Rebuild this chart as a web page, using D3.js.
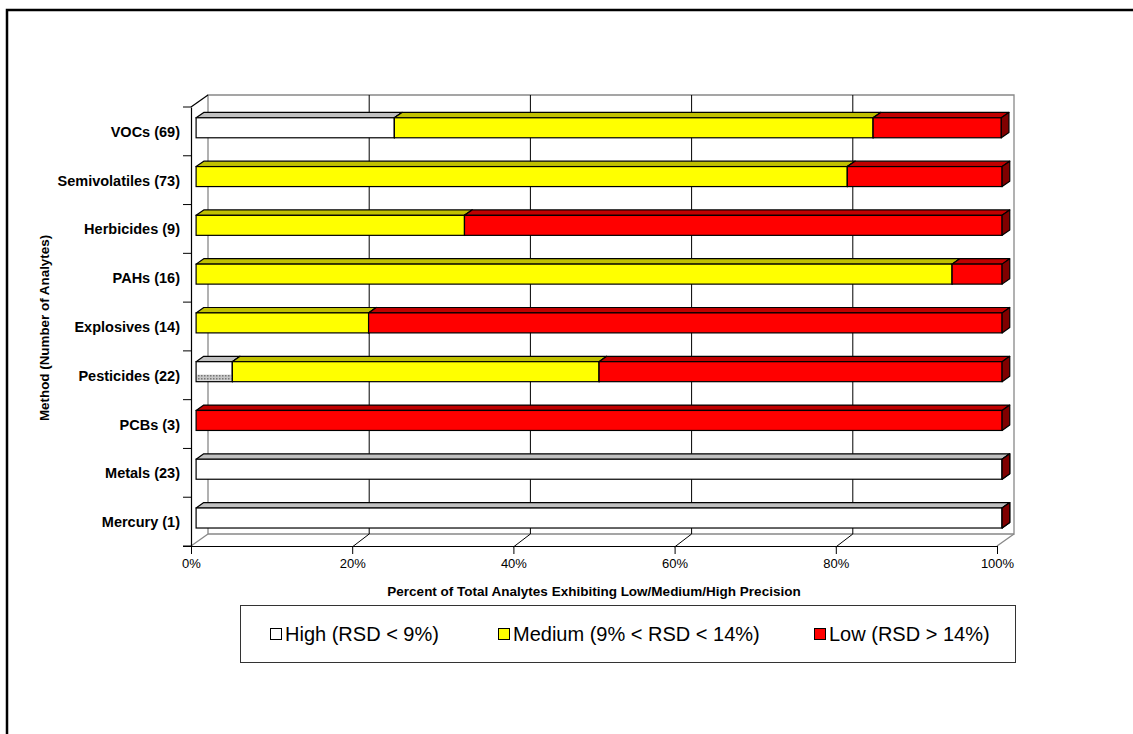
<!DOCTYPE html>
<html>
<head>
<meta charset="utf-8">
<script src="https://cdn.jsdelivr.net/npm/d3@7"></script>
<style>
  html, body { margin: 0; padding: 0; background: #fff; }
  svg { display: block; font-family: Arial, "Liberation Sans", sans-serif; }
</style>
</head>
<body>
<svg id="chart" width="1133" height="734"></svg>
<script>
// Methods with the number of analytes in each
const categories = ["VOCs (69)", "Semivolatiles (73)", "Herbicides (9)", "PAHs (16)",
  "Explosives (14)", "Pesticides (22)", "PCBs (3)", "Metals (23)", "Mercury (1)"];

// Percent of analytes in each precision class
const highPct   = [24.6,   0,    0,    0,    0,  4.5,   0, 100, 100];
const mediumPct = [59.4, 80.8, 33.3, 93.8, 21.4, 45.5,   0,   0,   0];
const lowPct    = [15.9, 19.2, 66.7,  6.2, 78.6, 50.0, 100,   0,   0];

const seriesNames = ["High (RSD < 9%)", "Medium (9% < RSD < 14%)", "Low (RSD > 14%)"];
const xTicks = [0, 20, 40, 60, 80, 100];

const svg = d3.select("#chart");

// Outer frame
svg.append("rect").attr("x", 7).attr("y", 10).attr("width", 1140).attr("height", 740)
  .attr("fill", "none").attr("stroke", "#000").attr("stroke-width", 2.5);

// Plot geometry (front plane) and depth offset of the 3D box
const x = d3.scaleLinear().domain([0, 100]).range([191, 997]);
const y = d3.scaleBand().domain(categories).range([107, 546]);
const DX = 17, DY = -12;
const F1 = 0.3, F2 = 0.75;     // bar front/back depth fractions
const barH = 20;

const at = (v, yy, f) => [x(v) + f * DX, yy + f * DY];

// Back wall
const wall = svg.append("g");
wall.append("path")
  .attr("d", `M${x(0)+DX},${y.range()[1]+DY} V${y.range()[0]+DY} H${x(100)+DX} V${y.range()[1]+DY} H${x(0)+DX}`)
  .attr("fill", "none").attr("stroke", "#888").attr("stroke-width", 1.3);
// Floor edges
wall.append("line").attr("x1", x(0)).attr("y1", y.range()[1]).attr("x2", x(0)+DX).attr("y2", y.range()[1]+DY)
  .attr("stroke", "#888").attr("stroke-width", 1.3);
wall.append("line").attr("x1", x(100)).attr("y1", y.range()[1]).attr("x2", x(100)+DX).attr("y2", y.range()[1]+DY)
  .attr("stroke", "#888").attr("stroke-width", 1.3);
// Side wall top edge
wall.append("line").attr("x1", x(0)).attr("y1", y.range()[0]).attr("x2", x(0)+DX).attr("y2", y.range()[0]+DY)
  .attr("stroke", "#000").attr("stroke-width", 1.2);

// Gridlines on back wall and floor
xTicks.filter(t => t > 0 && t < 100).forEach(t => {
  wall.append("line").attr("x1", x(t)+DX).attr("x2", x(t)+DX)
    .attr("y1", y.range()[0]+DY).attr("y2", y.range()[1]+DY)
    .attr("stroke", "#000").attr("stroke-width", 1);
  wall.append("line").attr("x1", x(t)).attr("y1", y.range()[1]+1)
    .attr("x2", x(t)+DX).attr("y2", y.range()[1]+DY)
    .attr("stroke", "#000").attr("stroke-width", 1);
});

// Axes
const xAxis = d3.axisBottom(x).tickValues(xTicks).tickFormat(d => d + "%").tickSize(8).tickSizeOuter(0);
const gx = svg.append("g").attr("transform", `translate(0,${y.range()[1]})`).call(xAxis);
gx.select(".domain").attr("d", `M${x(0)-8},0.5H${x(100)}`).attr("stroke", "#000").attr("stroke-width", 1.2);
gx.selectAll(".tick line").attr("stroke", "#000");
gx.selectAll(".tick text").attr("font-size", 13).attr("fill", "#000").attr("dy", "0.85em")
  .attr("font-family", "Arial, 'Liberation Sans', sans-serif");

const yAxis = d3.axisLeft(y).tickSize(0).tickPadding(11);
const gy = svg.append("g").attr("transform", `translate(${x(0)},0)`).call(yAxis);
gy.select(".domain").attr("stroke", "#000").attr("stroke-width", 1.2);
gy.selectAll(".tick text").attr("font-size", 14.5).attr("font-weight", "bold").attr("fill", "#000")
  .attr("dy", "0.38em").attr("font-family", "Arial, 'Liberation Sans', sans-serif");
// Category boundary ticks
const bounds = categories.map(c => y(c)).concat([y.range()[1]]);
gy.selectAll("line.bound").data(bounds).join("line").attr("class", "bound")
  .attr("x1", -8).attr("x2", 0).attr("y1", d => d).attr("y2", d => d)
  .attr("stroke", "#000").attr("stroke-width", 1);

// Axis titles
svg.append("text").attr("x", 594).attr("y", 596).attr("text-anchor", "middle")
  .attr("font-size", 13.5).attr("font-weight", "bold")
  .text("Percent of Total Analytes Exhibiting Low/Medium/High Precision");
svg.append("text").attr("transform", "translate(49,328) rotate(-90)").attr("text-anchor", "middle")
  .attr("font-size", 13.4).attr("font-weight", "bold")
  .text("Method (Number of Analytes)");

// Pattern used on the small High segment of Pesticides
const defs = svg.append("defs");
const pat = defs.append("pattern").attr("id", "dots").attr("patternUnits", "userSpaceOnUse")
  .attr("width", 3).attr("height", 3);
pat.append("rect").attr("width", 3).attr("height", 3).attr("fill", "#c8c8c8");
pat.append("rect").attr("width", 1.5).attr("height", 1.5).attr("fill", "#777");

// Face colours: front, top, side
const palette = [
  { front: "#ffffff", top: "#c0c0c0", side: "#808080" },
  { front: "#ffff00", top: "#c0c000", side: "#808000" },
  { front: "#ff0000", top: "#c00000", side: "#800000" }
];

const stacked = categories.map((c, i) => {
  const vals = [highPct[i], mediumPct[i], lowPct[i]];
  let acc = 0;
  return vals.map((v, s) => { const seg = { cat: c, s, x0: acc, x1: acc + v }; acc += v; return seg; });
});

const poly = pts => "M" + pts.map(p => p.join(",")).join("L") + "Z";

const bars = svg.append("g");
stacked.forEach((segs, i) => {
  const cy = y(categories[i]) + y.bandwidth() / 2;
  const top = cy - barH / 2, bot = cy + barH / 2;
  segs.forEach(seg => {
    const col = palette[seg.s];
    const g = bars.append("g");
    const x1v = Math.min(seg.x1, 100);
    if (seg.x1 - seg.x0 > 0.01) {
      // top face
      g.append("path").attr("d", poly([at(seg.x0, top, F1), at(x1v, top, F1), at(x1v, top, F2), at(seg.x0, top, F2)]))
        .attr("fill", col.top).attr("stroke", "#000").attr("stroke-width", 1.2).attr("stroke-linejoin", "round");
      // front face
      const p0 = at(seg.x0, top, F1), p1 = at(x1v, bot, F1);
      g.append("rect").attr("x", p0[0]).attr("y", p0[1]).attr("width", p1[0] - p0[0]).attr("height", p1[1] - p0[1])
        .attr("fill", col.front).attr("stroke", "#000").attr("stroke-width", 1.2);
      if (categories[i].startsWith("Pesticides") && seg.s === 0) {
        g.append("rect").attr("x", p0[0] + 1).attr("y", p1[1] - 7).attr("width", p1[0] - p0[0] - 2).attr("height", 6)
          .attr("fill", "url(#dots)");
      }
    }
    // right side face (the last segment's face ends the bar)
    if (seg.s === 2 || seg.x1 - seg.x0 > 0.01) {
      g.append("path").attr("d", poly([at(x1v, top, F1), at(x1v, top, F2), at(x1v, bot, F2), at(x1v, bot, F1)]))
        .attr("fill", col.side).attr("stroke", "#000").attr("stroke-width", 1.2).attr("stroke-linejoin", "round");
    }
  });
});

// Legend
const lg = svg.append("g");
lg.append("rect").attr("x", 240.5).attr("y", 605.5).attr("width", 775).attr("height", 57)
  .attr("fill", "#fff").attr("stroke", "#333").attr("stroke-width", 1);
const legendX = [270, 498, 814];
seriesNames.forEach((name, s) => {
  lg.append("rect").attr("x", legendX[s] + 0.5).attr("y", 628.5).attr("width", 11).attr("height", 11)
    .attr("fill", palette[s].front).attr("stroke", "#000").attr("stroke-width", 1);
  lg.append("text").attr("x", legendX[s] + 15).attr("y", 641).attr("font-size", 20)
    .attr("fill", "#000").text(name);
});
</script>
</body>
</html>
